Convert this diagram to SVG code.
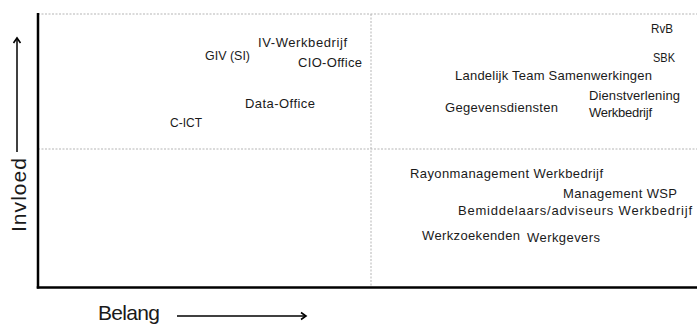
<svg xmlns="http://www.w3.org/2000/svg" width="697" height="325" viewBox="0 0 697 325">
<style>
.lbl{font-family:"Liberation Sans",Arial,sans-serif;font-size:13px;fill:#1a1a1a}
.ax{font-family:"Liberation Sans",Arial,sans-serif;font-size:21px;fill:#1a1a1a}
.grid{stroke:#b5b5b5;stroke-width:1;stroke-dasharray:2 1.5;fill:none}
.axis{stroke:#000;stroke-width:2.5;fill:none}
.arr{stroke:#000;stroke-width:1.5;fill:none}
</style>
<defs>
<marker id="ah" markerWidth="10" markerHeight="10" refX="7" refY="5" orient="auto" markerUnits="userSpaceOnUse">
<path d="M2,1.5 L7,5 L2,8.5" fill="none" stroke="#000" stroke-width="1.6"/>
</marker>
</defs>
<rect width="697" height="325" fill="#fff"/>
<g id="connectors">
<line class="grid" x1="38" y1="14" x2="697" y2="14"/>
<line class="grid" x1="38" y1="149" x2="697" y2="149"/>
<line class="grid" x1="371" y1="14" x2="371" y2="287"/>
<line class="axis" x1="38" y1="13" x2="38" y2="288.5"/>
<line class="axis" x1="36.75" y1="287.5" x2="697" y2="287.5"/>
<line class="arr" x1="17" y1="152" x2="17" y2="38" marker-end="url(#ah)"/>
<line class="arr" x1="177" y1="316" x2="306" y2="316" marker-end="url(#ah)"/>
</g>
<g id="axis-invloed"><text class="ax" transform="translate(26,232) rotate(-90)" textLength="74">Invloed</text></g>
<g id="axis-belang"><text class="ax" x="98" y="320" textLength="62">Belang</text></g>
<g id="n-iv"><text class="lbl" x="258" y="47" textLength="89">IV-Werkbedrijf</text></g>
<g id="n-giv"><text class="lbl" x="205" y="60" textLength="45" lengthAdjust="spacingAndGlyphs">GIV (SI)</text></g>
<g id="n-cio"><text class="lbl" x="298" y="67" textLength="64">CIO-Office</text></g>
<g id="n-data"><text class="lbl" x="245" y="108" textLength="70">Data-Office</text></g>
<g id="n-cict"><text class="lbl" x="170" y="127" textLength="32" lengthAdjust="spacingAndGlyphs">C-ICT</text></g>
<g id="n-rvb"><text class="lbl" x="651" y="33" textLength="22" lengthAdjust="spacingAndGlyphs">RvB</text></g>
<g id="n-sbk"><text class="lbl" x="653" y="62" textLength="22" lengthAdjust="spacingAndGlyphs">SBK</text></g>
<g id="n-lts"><text class="lbl" x="455" y="80" textLength="197">Landelijk Team Samenwerkingen</text></g>
<g id="n-dvw"><text class="lbl" x="589" y="100" textLength="91">Dienstverlening</text><text class="lbl" x="589" y="117" textLength="63">Werkbedrijf</text></g>
<g id="n-geg"><text class="lbl" x="445" y="112" textLength="113">Gegevensdiensten</text></g>
<g id="n-rayon"><text class="lbl" x="410" y="178" textLength="193">Rayonmanagement Werkbedrijf</text></g>
<g id="n-wsp"><text class="lbl" x="563" y="198" textLength="114">Management WSP</text></g>
<g id="n-bem"><text class="lbl" x="458" y="215" textLength="234">Bemiddelaars/adviseurs Werkbedrijf</text></g>
<g id="n-wz"><text class="lbl" x="422" y="240" textLength="98">Werkzoekenden</text></g>
<g id="n-wg"><text class="lbl" x="527" y="242" textLength="73">Werkgevers</text></g>
</svg>
